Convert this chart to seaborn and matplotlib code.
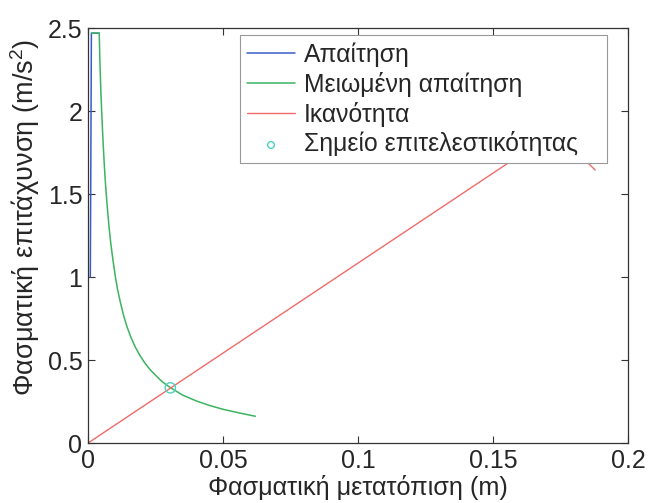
import matplotlib
matplotlib.use("Agg")
import matplotlib.pyplot as plt
import seaborn as sns
import pandas as pd

# Elastic demand spectrum (ADRS)
demand_sd = [0.0009, 0.0013, 0.0042]
demand_sa = [1.0, 2.47, 2.47]

# Reduced demand spectrum
reduced_sd = [0.0013, 0.0042, 0.0043, 0.0044, 0.0046, 0.0048, 0.0051, 0.0054, 0.0057,
              0.0061, 0.0064, 0.0068, 0.0073, 0.0079, 0.0085, 0.0093, 0.0102, 0.0110,
              0.0120, 0.0132, 0.0145, 0.0160, 0.0175, 0.0192, 0.0210, 0.0230, 0.0250,
              0.0275, 0.0305, 0.0350, 0.0400, 0.0450, 0.0500, 0.0560, 0.0620]
reduced_sa = [2.47, 2.47, 2.40, 2.33, 2.22, 2.12, 2.00, 1.89, 1.79,
              1.67, 1.59, 1.50, 1.40, 1.29, 1.20, 1.10, 1.00, 0.925,
              0.85, 0.77, 0.70, 0.635, 0.58, 0.53, 0.485, 0.443, 0.41,
              0.37, 0.335, 0.29, 0.255, 0.227, 0.204, 0.182, 0.162]

# Capacity curve
capacity_sd = [0.0, 0.165, 0.173, 0.178, 0.184, 0.1878]
capacity_sa = [0.0, 1.79, 1.86, 1.82, 1.705, 1.645]

# Performance point
perf_sd = [0.0305]
perf_sa = [0.333]

xticks = [0, 0.05, 0.1, 0.15, 0.2]
xticklabels = ["0", "0.05", "0.1", "0.15", "0.2"]
yticks = [0, 0.5, 1, 1.5, 2, 2.5]
yticklabels = ["0", "0.5", "1", "1.5", "2", "2.5"]

sns.set_style("ticks")
plt.rcParams["font.family"] = ["Liberation Sans", "DejaVu Sans"]
plt.rcParams["mathtext.fontset"] = "custom"
plt.rcParams["mathtext.rm"] = "Liberation Sans"

fig = plt.figure(figsize=(6.51, 5.03), dpi=100)
ax = fig.add_axes([0.135, 0.119, 0.830, 0.825])

c_blue = "#3a5cc8"
c_green = "#3ab460"
c_red = "#f06a6a"
c_teal = "#4fd0c0"

sns.lineplot(data=pd.DataFrame({"x": demand_sd, "y": demand_sa}), x="x", y="y",
             sort=False, estimator=None, color=c_blue, lw=1.1, ax=ax, label="Απαίτηση")
sns.lineplot(data=pd.DataFrame({"x": reduced_sd, "y": reduced_sa}), x="x", y="y",
             sort=False, estimator=None, color=c_green, lw=1.1, ax=ax,
             label="Μειωμένη απαίτηση")
sns.lineplot(data=pd.DataFrame({"x": capacity_sd, "y": capacity_sa}), x="x", y="y",
             sort=False, estimator=None, color=c_red, lw=1.0, ax=ax, label="Ικανότητα")
sns.scatterplot(data=pd.DataFrame({"x": perf_sd, "y": perf_sa}), x="x", y="y",
                marker="o", s=55, facecolor="none", edgecolor=c_teal, linewidth=1.0,
                ax=ax, label="Σημείο επιτελεστικότητας", zorder=5)

ax.set_xlim(0, 0.2)
ax.set_ylim(0, 2.5)
ax.set_xticks(xticks)
ax.set_xticklabels(xticklabels)
ax.set_yticks(yticks)
ax.set_yticklabels(yticklabels)
ax.tick_params(direction="in", top=True, right=True, labelsize=18, length=5,
               width=0.8, color="#333333", pad=4)
for s in ax.spines.values():
    s.set_visible(True)
    s.set_color("#333333")
    s.set_linewidth(0.9)

ax.set_xlabel("Φασματική μετατόπιση (m)", fontsize=18.2, labelpad=1.5)
ax.set_ylabel("Φασματική επιτάχυνση (m/s$^2$)", fontsize=19.5)
ax.yaxis.set_label_coords(-0.085, 0.545)

leg = ax.legend(loc="upper left", bbox_to_anchor=(0.2815, 0.5, 0.6796, 0.483),
                mode="expand", fontsize=17.8, markerscale=0.65,
                frameon=True, fancybox=False, framealpha=1, edgecolor="#999999",
                handlelength=1.95, handletextpad=0.36, labelspacing=0.2,
                borderpad=0.28, borderaxespad=0)
leg.get_frame().set_linewidth(0.8)

fig.savefig("out.png", dpi=100)
